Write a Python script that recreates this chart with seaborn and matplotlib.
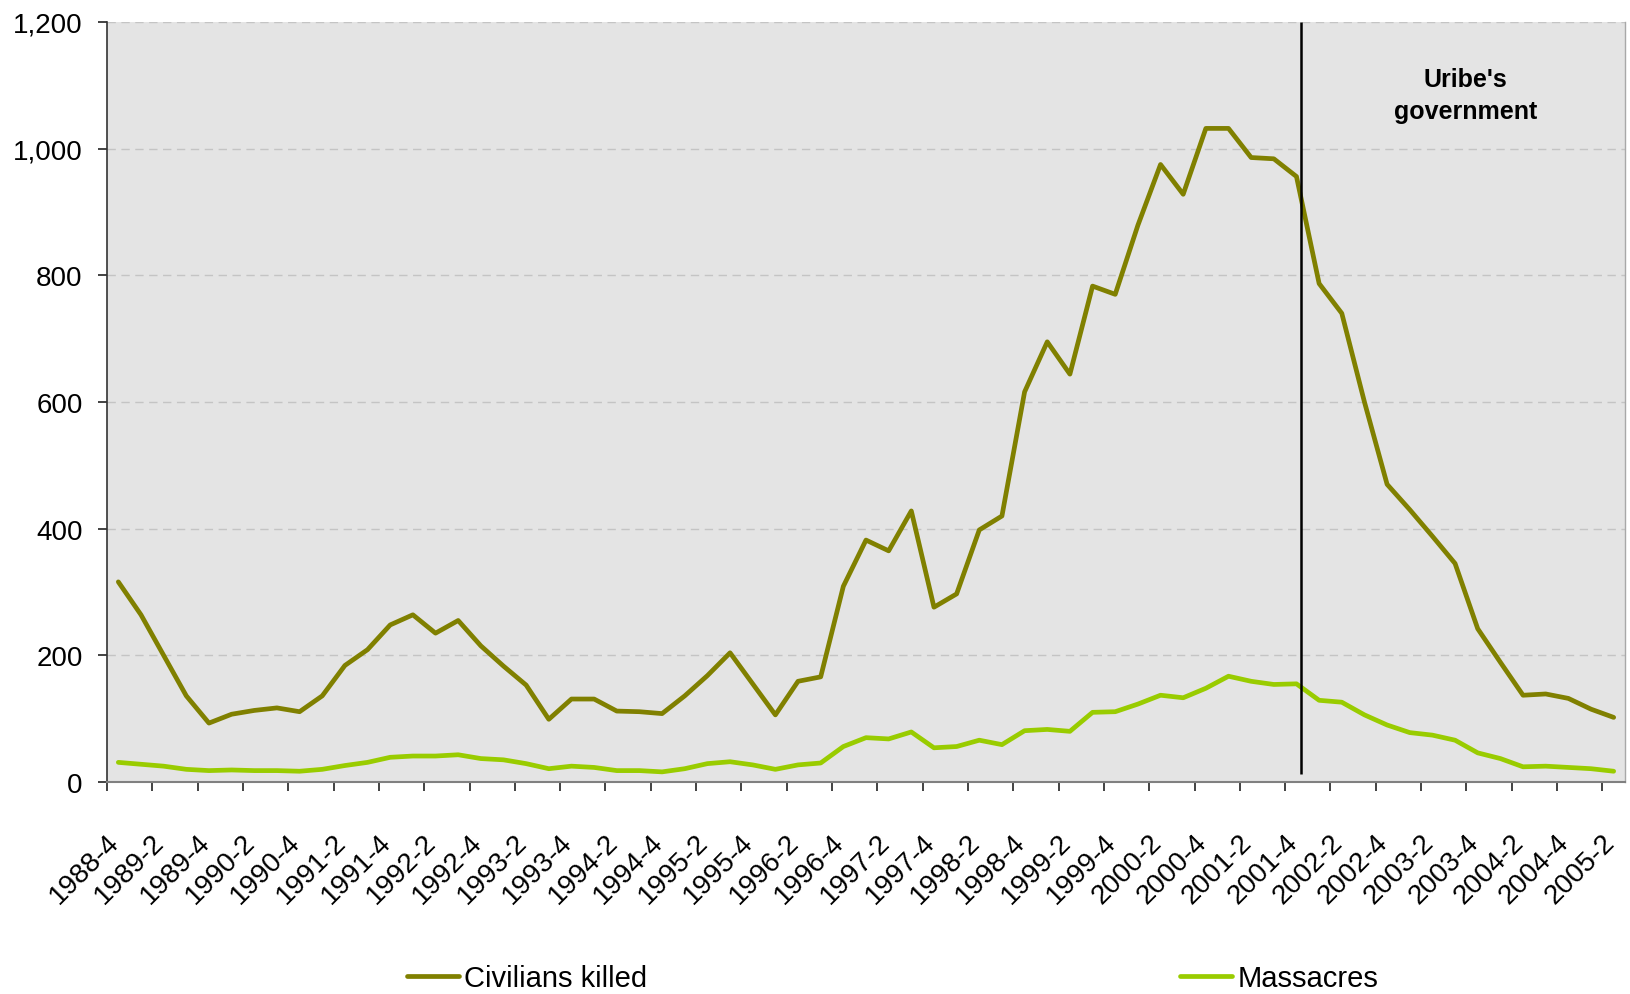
import numpy as np
import pandas as pd
import matplotlib
matplotlib.use("Agg")
import matplotlib.pyplot as plt
import matplotlib.transforms as mtransforms
from matplotlib.ticker import StrMethodFormatter, FixedLocator
import seaborn as sns

# quarters 1988-4 .. 2005-2
quarters = []
for year in range(1988, 2006):
    for q in range(1, 5):
        if (year == 1988 and q < 4) or (year == 2005 and q > 2):
            continue
        quarters.append(f"{year}-{q}")

civilians_killed = [316, 264, 200, 136, 93, 107, 113, 117, 111, 136,
                    184, 209, 248, 264, 235, 255, 215, 183, 153, 99,
                    131, 131, 112, 111, 108, 136, 168, 204, 155, 106,
                    159, 166, 309, 382, 365, 428, 276, 297, 398, 420,
                    616, 695, 644, 783, 770, 879, 975, 928, 1032, 1032,
                    986, 984, 956, 787, 740, 600, 470, 430, 388, 345,
                    242, 189, 137, 139, 132, 115, 102]
massacres = [31, 28, 25, 20, 18, 19, 18, 18, 17, 20,
             26, 31, 39, 41, 41, 43, 37, 35, 29, 21,
             25, 23, 18, 18, 16, 21, 29, 32, 27, 20,
             27, 30, 56, 70, 68, 79, 54, 56, 66, 59,
             81, 83, 80, 110, 111, 123, 137, 133, 148, 167,
             159, 154, 155, 129, 126, 106, 90, 78, 74, 66,
             46, 37, 24, 25, 23, 21, 17]
series_names = ["Civilians killed", "Massacres"]
colors = ["#808000", "#99CC00"]
uribe_start = 52.2  # between 2001-4 and 2002-1

df = pd.DataFrame({
    "idx": np.tile(np.arange(len(quarters)), 2),
    "value": civilians_killed + massacres,
    "series": [series_names[0]] * len(quarters) + [series_names[1]] * len(quarters),
})

sns.set_style("white")
plt.rcParams["font.family"] = ["Liberation Sans", "DejaVu Sans"]
plt.rcParams["text.color"] = "black"
plt.rcParams["xtick.color"] = "black"
plt.rcParams["ytick.color"] = "black"

fig = plt.figure(figsize=(16.3, 9.95), dpi=100)
ax = fig.add_axes([107 / 1630, 1 - 783 / 995, 1518 / 1630, 760 / 995])
ax.set_facecolor("#E4E4E4")

sns.lineplot(data=df, x="idx", y="value", hue="series", palette=colors,
             linewidth=3.4, legend=False, ax=ax)

ax.set_xlim(-0.5, len(quarters) - 0.5)
ax.set_ylim(0, 1200)
ax.set_xlabel("")
ax.set_ylabel("")

# gridlines
ax.set_yticks(range(0, 1201, 200))
ax.yaxis.set_major_formatter(StrMethodFormatter("{x:,.0f}"))
ax.grid(axis="y", color="#C4C4C4", linestyle=(0, (6, 4)), linewidth=1.0)
ax.grid(axis="x", visible=False)
ax.set_axisbelow(True)

# x axis: labels every 2 quarters, tick marks on category boundaries
label_pos = list(range(0, len(quarters), 2))
ax.set_xticks(label_pos)
ax.set_xticklabels([quarters[i] for i in label_pos], rotation=45,
                   ha="right", va="center", rotation_mode="anchor")
ax.xaxis.set_minor_locator(FixedLocator([p - 0.5 for p in label_pos]))
ax.tick_params(axis="x", which="major", length=0, pad=40, labelsize=20)
ax.tick_params(axis="x", which="minor", length=6.5, width=1.2, color="#222222",
               direction="out", bottom=True)
offset = mtransforms.ScaledTranslation(-3 / 100, 0, fig.dpi_scale_trans)
for lab in ax.get_xticklabels():
    lab.set_transform(lab.get_transform() + offset)

ax.tick_params(axis="y", which="major", length=6.5, width=1.2, color="#222222",
               direction="out", left=True, pad=11, labelsize=20)

ax.spines["top"].set_visible(False)
ax.spines["left"].set_color("#333333")
ax.spines["left"].set_linewidth(1.2)
ax.spines["bottom"].set_color("#808080")
ax.spines["bottom"].set_linewidth(1.5)
ax.spines["right"].set_color("#A8A8A8")
ax.spines["right"].set_linewidth(1.0)

# Uribe's government marker
ax.vlines(uribe_start, 12, 1200, color="black", linewidth=1.8)
ax.text(59.45, 1085, "Uribe's\ngovernment", ha="center", va="center",
        fontsize=18, fontweight="bold", linespacing=1.45, color="black")

fig.legend(handles=ax.lines[:2], labels=series_names, loc="center",
           bbox_to_anchor=(0.5475, 0.0161), ncol=2, frameon=False,
           fontsize=21, handlelength=1.78, handletextpad=0.17,
           columnspacing=18.3)

fig.savefig("out.png", dpi=100)
